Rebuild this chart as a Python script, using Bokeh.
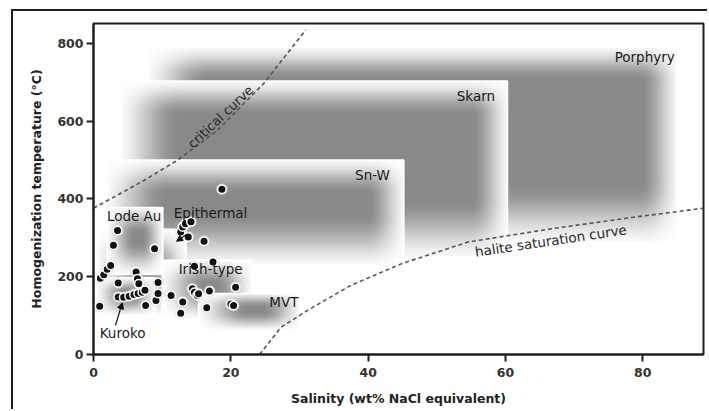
import numpy as np
from bokeh.plotting import figure
from bokeh.models import Range1d, Arrow, NormalHead
from bokeh.embed import file_html
from bokeh.resources import INLINE
from bokeh.core.properties import value

# ---------------- data ----------------
deposit_names = ["Porphyry", "Skarn", "Sn-W", "Epithermal", "Lode Au", "Irish-type", "MVT", "Kuroko"]
sal_min = [8.0, 4.0, 2.0, 0.5, 2.0, 10.0, 15.3, 0.5]
sal_max = [85.0, 60.3, 45.2, 13.5, 10.1, 23.0, 30.0, 9.0]
temp_min = [290, 250, 230, 100, 206, 92, 62, 100]
temp_max = [790, 703, 500, 322, 378, 242, 157, 198]

# fluid inclusion data (salinity wt% NaCl eq., homogenization T degC)
fi_sal = [0.9, 1.0, 1.5, 2.0, 2.5, 3.5, 2.9, 8.9,
          3.6, 3.6, 6.2, 6.4, 6.6,
          4.4, 5.2, 5.9, 6.5, 7.1, 7.5,
          7.6, 9.1, 9.4, 9.4, 11.3, 13.0, 12.7,
          12.7, 13.0, 13.4, 14.2, 13.8, 16.1, 14.7, 17.4,
          14.4, 14.7, 15.1, 15.3, 16.9, 16.5, 20.7, 20.0, 20.4, 18.7]
fi_temp = [124, 196, 205, 219, 229, 319, 281, 272,
           184, 148, 212, 195, 182,
           147, 150, 154, 157, 160, 165,
           126, 139, 185, 157, 152, 135, 106,
           315, 328, 336, 341, 302, 291, 227, 238,
           169, 160, 152, 156, 163, 120, 173, 130, 126, 425]

# dashed phase curves
crit_sal = [0.0, 3.5, 7.4, 12.2, 18.1, 24.8, 30.9]
crit_temp = [376, 410, 448, 499, 577, 697, 834]
halite_sal = [24.2, 27.3, 31.6, 37.5, 44.8, 54.5, 66.6, 78.7, 88.8]
halite_temp = [0, 70, 118, 178, 233, 289, 323, 353, 376]

# labels
label_text = ["Porphyry", "Skarn", "Sn-W", "Epithermal", "Lode Au", "Irish-type", "MVT", "Kuroko"]
label_sal = [75.9, 52.9, 38.1, 11.7, 1.95, 12.4, 25.6, 0.9]
label_temp = [764, 664, 461, 363, 356, 219, 134, 54]

x_ticks = [0, 20, 40, 60, 80]
y_ticks = [0, 200, 400, 600, 800]
X_END, Y_END = 88.84, 851

# ---------------- figure ----------------
W, H = 696, 400
p = figure(width=W, height=H, output_backend="svg", toolbar_location=None,
           x_range=Range1d(0, X_END), y_range=Range1d(0, Y_END),
           min_border_left=80, min_border_right=6, min_border_top=12, min_border_bottom=57,
           background_fill_color="white", border_fill_color="white",
           styles={"border-left": "2px solid #1e1e1e", "border-top": "2px solid #1e1e1e",
                   "margin-left": "11px", "margin-top": "9px"})
p.xgrid.visible = False
p.ygrid.visible = False
p.outline_line_color = "#1e1e1e"
p.outline_line_width = 2

frame_w = W - 80 - 6
frame_h = H - 12 - 57
SX = X_END / frame_w   # data units per px
SY = Y_END / frame_h

# soft-edged shaded boxes (image texture placed with data coordinates)
FL, FR, FT, FB = 60, 38, 34, 60   # fade widths in px
DARK = 0.46


def sstep(t):
    t = np.clip(t, 0.0, 1.0)
    return t * t * (3 - 2 * t)


for i in range(len(deposit_names)):
    x0, x1, y0, y1 = sal_min[i], sal_max[i], temp_min[i], temp_max[i]
    wpx = max(2, int(round((x1 - x0) / SX)))
    hpx = max(2, int(round((y1 - y0) / SY)))
    xs = np.arange(wpx) + 0.5
    ys = np.arange(hpx) + 0.5
    fl = sstep(0.12 + 0.88 * xs / min(FL, 0.5 * wpx))
    fr = sstep(0.12 + 0.88 * (wpx - xs) / min(FR, 0.4 * wpx))
    fb = sstep(0.12 + 0.88 * ys / min(FB, 0.5 * hpx))
    ft = sstep(0.12 + 0.88 * (hpx - ys) / min(FT, 0.4 * hpx))
    f = np.outer(fb * ft, fl * fr)
    g = (255 * (1 - DARK * f)).astype(np.uint8)
    img = np.empty((hpx, wpx), dtype=np.uint32)
    v = img.view(dtype=np.uint8).reshape((hpx, wpx, 4))
    v[:, :, 0] = g
    v[:, :, 1] = g
    v[:, :, 2] = g
    v[:, :, 3] = 255
    p.image_rgba(image=[img], x=x0, y=y0, dw=x1 - x0, dh=y1 - y0)
    p.quad(left=[x0], right=[x1], bottom=[y0], top=[y1], fill_color=None,
           line_color="white", line_width=1.5)

# curves
p.line(crit_sal, crit_temp, line_color="#555555", line_width=1.6, line_dash="4 3")
p.line(halite_sal, halite_temp, line_color="#555555", line_width=1.6, line_dash="4 3")

# arrows
p.add_layout(Arrow(end=NormalHead(size=6, fill_color="#111", line_color="#111"),
                   x_start=3.2, y_start=75, x_end=4.2, y_end=133,
                   line_color="#111", line_width=1.2))
p.add_layout(Arrow(end=NormalHead(size=6, fill_color="#111", line_color="#111"),
                   x_start=13.6, y_start=309, x_end=12.1, y_end=291,
                   line_color="#111", line_width=1.2))

# data points
p.scatter(fi_sal, fi_temp, marker="circle", size=12, fill_color="#d8d8d8",
          fill_alpha=0.5, line_color=None)
p.scatter(fi_sal, fi_temp, marker="circle", size=8.5, fill_color="#111111",
          line_color="white", line_width=1.5)

# labels
p.text(label_sal, label_temp, text=label_text, text_font=value("DejaVu Sans"),
       text_font_size="13.5px", text_color="#1a1a1a", text_align="left",
       text_baseline="middle")
p.text([18.5], [611], text=["critical curve"], angle=0.755, text_font=value("DejaVu Sans"),
       text_font_size="13px", text_color="#2a2a2a", text_align="center",
       text_baseline="middle")
p.text([66.6], [293], text=["halite saturation curve"], angle=0.148,
       text_font=value("DejaVu Sans"), text_font_size="13.5px", text_color="#2a2a2a",
       text_align="center", text_baseline="middle")

# axes
for ax in (p.xaxis, p.yaxis):
    ax.axis_line_color = "#1e1e1e"
    ax.axis_line_width = 2
    ax.major_tick_line_color = "#1e1e1e"
    ax.major_tick_line_width = 2
    ax.major_tick_in = 0
    ax.major_tick_out = 7
    ax.minor_tick_line_color = None
    ax.major_label_text_font = "DejaVu Sans"
    ax.major_label_text_font_style = "bold"
    ax.major_label_text_font_size = "12.5px"
    ax.major_label_text_color = "#333333"
    ax.axis_label_text_font = "DejaVu Sans"
    ax.axis_label_text_font_style = "bold"
    ax.axis_label_text_font_size = "12.5px"
    ax.axis_label_text_color = "#222222"
p.xaxis.ticker = x_ticks
p.yaxis.ticker = y_ticks
p.xaxis.axis_label = "Salinity (wt% NaCl equivalent)"
p.yaxis.axis_label = "Homogenization temperature (°C)"
p.xaxis.major_label_standoff = 6
p.xaxis.axis_label_standoff = 11
p.yaxis.major_label_standoff = 3
p.yaxis.axis_label_standoff = 10

open("out.html", "w").write(file_html(p, INLINE))
